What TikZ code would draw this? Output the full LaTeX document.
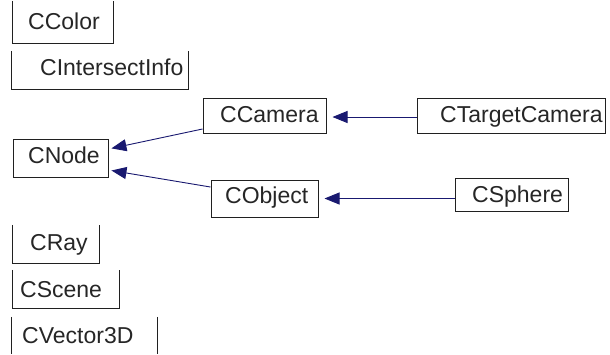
\documentclass[tikz,border=0pt]{standalone}
\usepackage{fontspec}
\setmainfont{Liberation Sans}
\usetikzlibrary{arrows.meta}
\definecolor{edgeblue}{HTML}{191970}
\definecolor{boxline}{HTML}{202020}
\begin{document}
\begin{tikzpicture}[x=1pt,y=-1pt,
  shapebox/.style={rectangle,draw=boxline,line width=1pt,inner sep=0pt},
  openbox/.style={rectangle,draw=none,inner sep=0pt},
  openline/.style={draw=boxline,line width=1pt},
  lbl/.style={anchor=base west,inner sep=0pt,font=\fontsize{23}{23}\selectfont,text=black!85},
  edge/.style={draw=edgeblue,line width=0.9pt,-{Triangle[length=15pt,width=12pt]}}]
\useasboundingbox[fill=white] (0,0) rectangle (610,354);
% boxes
\node[openbox,minimum width=100pt,minimum height=42pt] (color) at (63,22) {};
\node[openbox,minimum width=176pt,minimum height=38pt] (inter) at (100,70) {};
\node[shapebox,minimum width=95pt,minimum height=38pt] (node) at (60.5,158) {};
\node[shapebox,minimum width=123pt,minimum height=35pt] (camera) at (264.5,115.5) {};
\node[shapebox,minimum width=107pt,minimum height=37pt] (object) at (264.5,198.5) {};
\node[shapebox,minimum width=188pt,minimum height=35pt] (target) at (511,115.5) {};
\node[shapebox,minimum width=113pt,minimum height=33pt] (sphere) at (511.5,195) {};
\node[openbox,minimum width=86pt,minimum height=38pt] (ray) at (56,244) {};
\node[openbox,minimum width=106pt,minimum height=38pt] (scene) at (66,289) {};
\node[openbox,minimum width=145pt,minimum height=37pt] (vector) at (84.5,335.5) {};
% open boxes
\draw[openline] (color.north west) |- (color.south east) -- (color.north east);
\draw[openline] (inter.north west) |- (inter.south east) -- (inter.north east);
\draw[openline] (ray.north west) |- (ray.south east) -- (ray.north east);
\draw[openline] (scene.north west) |- (scene.south east) -- (scene.north east);
\draw[openline] (vector.north west) -- (vector.south west);
\draw[openline] (vector.north east) -- (vector.south east);
% labels
\node[lbl] (tcolor) at (28,29) {CColor};
\node[lbl] (tinter) at (40,75) {CIntersectInfo};
\node[lbl] (tnode) at (28,163) {CNode};
\node[lbl] (tcamera) at (220,122) {CCamera};
\node[lbl] (tobject) at (225,203) {CObject};
\node[lbl] (ttarget) at (440,122) {CTargetCamera};
\node[lbl] (tsphere) at (472,202) {CSphere};
\node[lbl] (tray) at (30,250) {CRay};
\node[lbl] (tscene) at (20,297) {CScene};
\node[lbl] (tvector) at (22,343) {CVector3D};
% edges
\draw[edge,shorten >=3pt] ([yshift=-13.5pt]camera.west) -- ([yshift=9pt]node.east);
\draw[edge,shorten >=3pt] ([yshift=11.5pt]object.west) -- ([yshift=-12pt]node.east);
\draw[edge,shorten >=6pt] ([yshift=-1.5pt]target.west) -- ([yshift=-1.5pt]camera.east);
\draw[edge,shorten >=6pt] (sphere.west |- object.east) -- (object.east);
\end{tikzpicture}
\end{document}
